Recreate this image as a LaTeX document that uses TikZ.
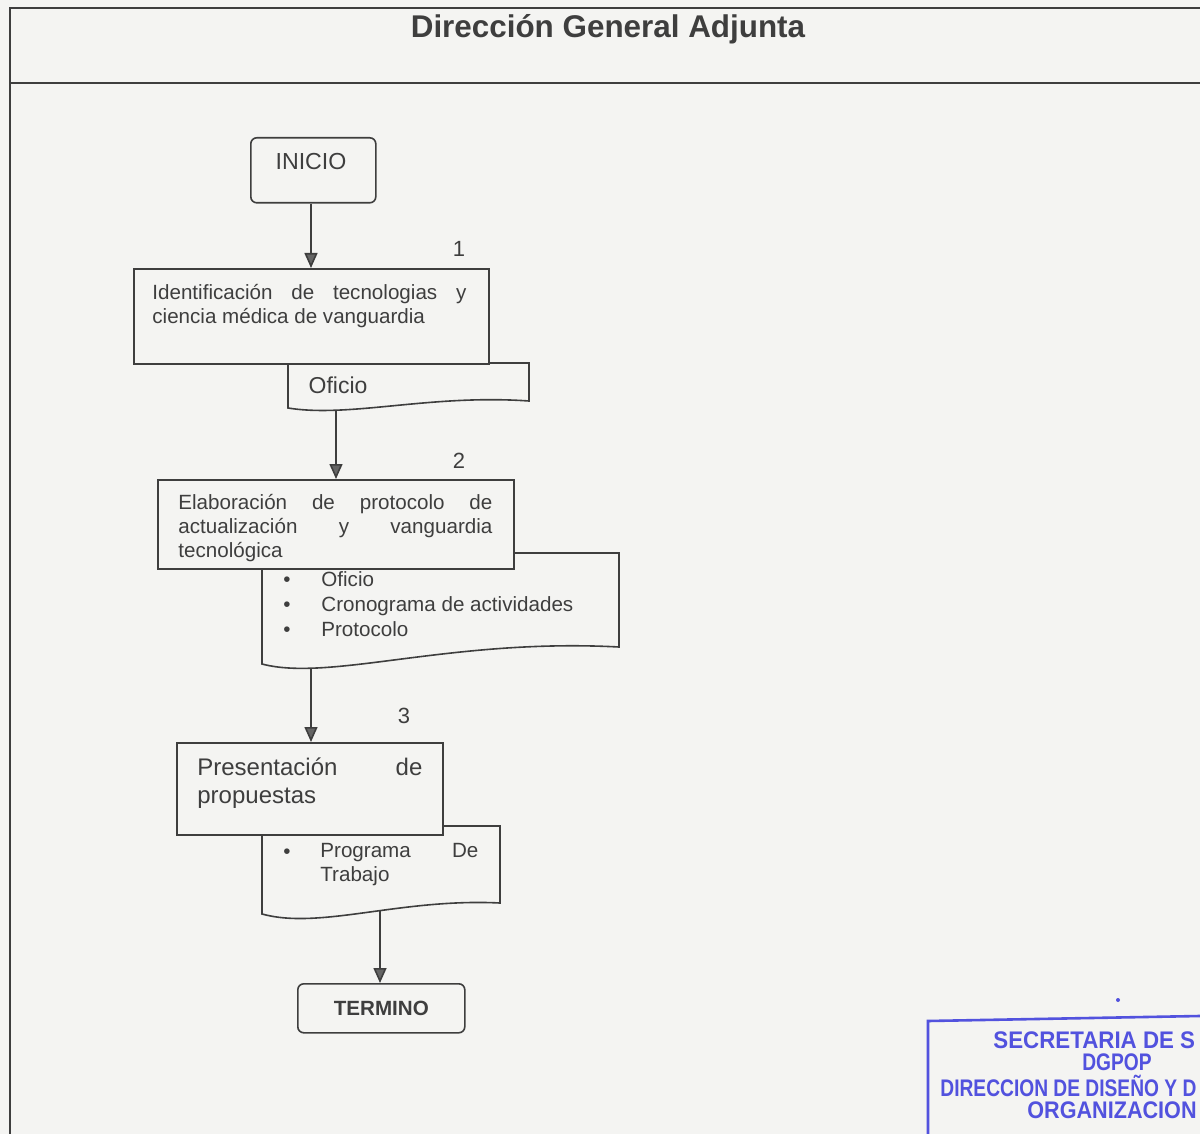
\documentclass[tikz,border=0pt]{standalone}
\usepackage{fontspec}
\setmainfont{Liberation Sans}
\usetikzlibrary{arrows.meta}
\hyphenpenalty=10000

\definecolor{ink}{RGB}{62,62,62}
\definecolor{paper}{RGB}{244,244,242}
\definecolor{sello}{RGB}{82,82,222}

\begin{document}
\begin{tikzpicture}
          [x=0.5pt, y=-0.5pt,
           caja/.style={draw=ink, fill=paper, line width=0.8pt, inner sep=0, anchor=north west},
           extremo/.style={caja, rounded corners=3pt},
           documento/.style={draw=ink, fill=paper, line width=0.8pt},
           texto/.style={inner sep=0, text=ink, font=\fontsize{10.3}{12}\selectfont},
           flecha/.style={draw=ink, line width=0.8pt, -{Triangle[length=7.5pt,width=6.5pt,fill=ink!80]}},
           paso/.style={texto, font=\fontsize{11}{12}\selectfont},
           sellotxt/.style={inner sep=0, anchor=west, text=sello, font=\bfseries\fontsize{12}{12}\selectfont}]

          \useasboundingbox[fill=paper] (0,0) rectangle (1200,1134);

          % marco y titulo
          \draw[ink, line width=0.8pt] (1200,8) -- (10,8) -- (10,1134);
          \draw[ink, line width=0.8pt] (10,83) -- (1200,83);
          \node[inner sep=0, text=ink, font=\bfseries\fontsize{15.7}{16}\selectfont] (titulo) at (608,29) {Dirección General Adjunta};

          % documentos (detras de las cajas)
          \draw[documento] (288,363) -- (288,408) .. controls (350,418) and (430,394) .. (529,401) -- (529,363) -- cycle;
          \draw[documento] (262,553) -- (262,664) .. controls (330,682) and (450,638) .. (619,647) -- (619,553) -- cycle;
          \draw[documento] (262,826) -- (262,914) .. controls (320,930) and (400,898) .. (500,903) -- (500,826) -- cycle;
          \coordinate (doc1) at (336,410);
          \coordinate (doc2) at (311,668);
          \coordinate (doc3) at (380,910);

          % cajas
          \node[extremo, minimum width=62.5pt, minimum height=32.5pt] (inicio) at (250,137) {};
          \node[caja, minimum width=177.5pt, minimum height=47.5pt] (act1) at (133,268) {};
          \node[caja, minimum width=178pt, minimum height=44.5pt] (act2) at (157,479) {};
          \node[caja, minimum width=133pt, minimum height=46pt] (act3) at (176,742) {};
          \node[extremo, minimum width=83.5pt, minimum height=24.5pt, text=ink, font=\bfseries\fontsize{10.3}{12}\selectfont] (termino) at (297,983) {TERMINO};

          % textos
          \node[texto, font=\fontsize{11.6}{12}\selectfont] (inicioTxt) at (311,162) {INICIO};
          \node[texto, anchor=north west, text width=157pt, align=justify] (act1Txt) at (152,284) {Identificación de tecnologias y ciencia médica de vanguardia};
          \node[texto, anchor=north west, text width=157pt, align=justify] (act2Txt) at (178,494) {Elaboración de protocolo de actualización y vanguardia tecnológica};
          \node[texto, anchor=north west, text width=112.5pt, align=justify, font=\fontsize{12}{14}\selectfont] (act3Txt) at (197,757) {Presentación de propuestas};
          \node[texto, font=\fontsize{11.5}{12}\selectfont] (doc1Txt) at (338,385) {Oficio};
          \node[texto, anchor=north west, align=left, font=\fontsize{10.3}{12.5}\selectfont] (doc2Txt) at (283,571)
            {\makebox[19pt][l]{\textbullet}Oficio\\ \makebox[19pt][l]{\textbullet}Cronograma de actividades\\ \makebox[19pt][l]{\textbullet}Protocolo};
          \node[texto, anchor=base west] (bala3) at (283,858) {\textbullet};
          \node[texto, anchor=north west, text width=79pt, align=justify] (doc3Txt) at (320,843) {Programa De Trabajo};

          \node[paso] (n1) at (459,249) {1};
          \node[paso] (n2) at (459,461) {2};
          \node[paso] (n3) at (404,716) {3};

          % conectores
          \draw[flecha] (inicio.south -| 311,0) -- (act1.north -| 311,0);
          \draw[flecha] (doc1) -- (doc1 |- act2.north);
          \draw[flecha] (doc2) -- (doc2 |- act3.north);
          \draw[flecha] (doc3) -- (doc3 |- termino.north);

          % sello
          \begin{scope}
            \clip (0,0) rectangle (1200,1134);
            \draw[sello, line width=1.3pt] (1200,1016) -- (928,1021) -- (928,1140);
            \fill[sello] (1118,1000) circle (2);
            \node[sellotxt] (sello1) at (993,1040) {\scalebox{0.93}[1]{SECRETARIA DE S}};
            \node[sellotxt, anchor=center] (sello2) at (1117,1062) {\scalebox{0.8}[1]{DGPOP}};
            \node[sellotxt] (sello3) at (940,1086) {\scalebox{0.8}[1]{DIRECCION DE DISEÑO Y D}};
            \node[sellotxt] (sello4) at (1027,1110) {\scalebox{0.9}[1]{ORGANIZACION}};
          \end{scope}

        \end{tikzpicture}
\end{document}
